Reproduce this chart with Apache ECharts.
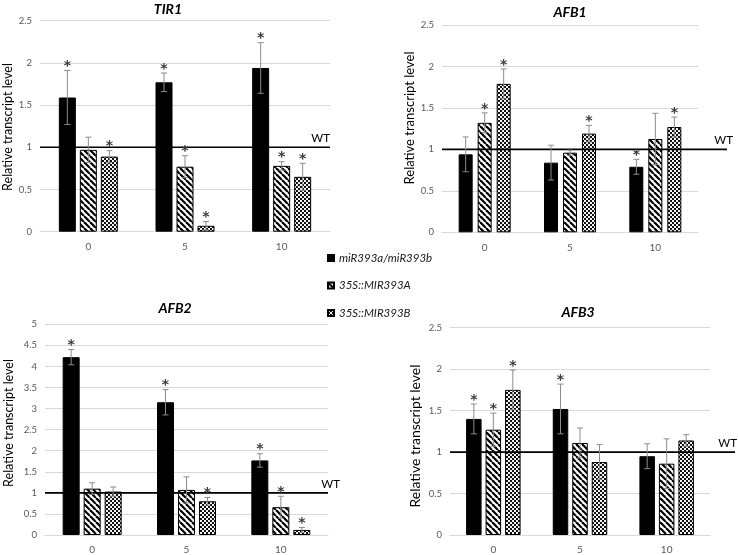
<!DOCTYPE html>
<html>
<head>
<meta charset="utf-8">
<script src="https://cdn.jsdelivr.net/npm/echarts@6/dist/echarts.min.js"></script>
<style>html,body{margin:0;padding:0;background:#fff}#c{width:738px;height:555px}</style>
</head>
<body>
<div id="c"></div>
<script>
// ---- data ----
const categories = ['0', '5', '10'];
const seriesNames = ['miR393a/miR393b', '35S::MIR393A', '35S::MIR393B'];
const panelTitles = ['TIR1', 'AFB1', 'AFB2', 'AFB3'];
const yLabel = 'Relative transcript level';
const wtLabel = 'WT';
const wtLevel = 1;

const tir1Mean = [[1.59, 1.77, 1.94], [0.97, 0.77, 0.78], [0.89, 0.07, 0.65]];
const tir1Err  = [[0.32, 0.11, 0.30], [0.15, 0.13, 0.05], [0.07, 0.05, 0.16]];
const tir1Sig  = [[1, 1, 1], [0, 1, 1], [1, 1, 1]];

const afb1Mean = [[0.94, 0.84, 0.79], [1.32, 0.96, 1.125], [1.79, 1.19, 1.27]];
const afb1Err  = [[0.21, 0.21, 0.09], [0.12, 0.03, 0.31], [0.18, 0.10, 0.12]];
const afb1Sig  = [[0, 0, 1], [1, 0, 0], [1, 1, 1]];

const afb2Mean = [[4.22, 3.15, 1.77], [1.10, 1.07, 0.66], [1.03, 0.80, 0.12]];
const afb2Err  = [[0.18, 0.30, 0.16], [0.14, 0.31, 0.26], [0.11, 0.09, 0.06]];
const afb2Sig  = [[1, 1, 1], [0, 0, 1], [0, 1, 1]];

const afb3Mean = [[1.40, 1.52, 0.95], [1.27, 1.11, 0.86], [1.75, 0.88, 1.14]];
const afb3Err  = [[0.18, 0.30, 0.15], [0.20, 0.18, 0.30], [0.24, 0.21, 0.07]];
const afb3Sig  = [[1, 1, 0], [1, 0, 0], [1, 0, 0]];

const yMax = [2.5, 2.5, 5, 2.5];
const yInterval = 0.5;

// ---- layout / style ----
const FONT = 'Lato, "Liberation Sans", sans-serif';
const grids = [
  {left: 40, top: 20.7, width: 290, height: 211},
  {left: 442, top: 25, width: 256, height: 207.3},
  {left: 45, top: 324.3, width: 283, height: 214},
  {left: 450, top: 327.7, width: 260, height: 210}
];
const barW = [17, 14, 17, 15.5];
const barGapPx = [4, 5, 4, 4];
const wtExt = [0, 29, 0, 25];         // line extension beyond grid right
const wtTextX = [330, 733, 340, 737]; // right edge of WT label
const titlePos = [[168, 9], [570, 12], [175, 308], [578, 312]];
const yNamePos = [[8, 127], [410, 118], [9, 423], [415, 436]];
const yNameSize = [12.5, 13, 12.5, 14];

function hatchPattern() {
  const c = document.createElement('canvas');
  c.width = 6; c.height = 6;
  const g = c.getContext('2d');
  g.fillStyle = '#fff'; g.fillRect(0, 0, 6, 6);
  g.strokeStyle = '#000'; g.lineWidth = 2.2;
  for (const o of [-6, 0, 6]) { g.beginPath(); g.moveTo(o, 0); g.lineTo(o + 6, 6); g.stroke(); }
  return c;
}
function checkerPattern() {
  const c = document.createElement('canvas');
  c.width = 4; c.height = 4;
  const g = c.getContext('2d');
  g.fillStyle = '#111'; g.fillRect(0, 0, 4, 4);
  g.fillStyle = '#f4f4f4'; g.fillRect(0, 0, 2, 2); g.fillRect(2, 2, 2, 2);
  return c;
}
const fills = ['#000', {image: hatchPattern(), repeat: 'repeat'}, {image: checkerPattern(), repeat: 'repeat'}];

const panels = [
  [tir1Mean, tir1Err, tir1Sig],
  [afb1Mean, afb1Err, afb1Sig],
  [afb2Mean, afb2Err, afb2Sig],
  [afb3Mean, afb3Err, afb3Sig]
];

const xAxes = [], yAxes = [], series = [], graphics = [];
panels.forEach(function (p, i) {
  const mean = p[0], err = p[1], sig = p[2];
  xAxes.push({
    gridIndex: i, type: 'category', data: categories,
    axisTick: {show: false},
    axisLine: {lineStyle: {color: '#d9d9d9', width: 1}},
    axisLabel: {color: '#595959', fontSize: 10, fontFamily: FONT, margin: 10}
  });
  yAxes.push({
    gridIndex: i, type: 'value', min: 0, max: yMax[i], interval: yInterval,
    axisLine: {show: false}, axisTick: {show: false},
    splitLine: {lineStyle: {color: '#d9d9d9', width: 1}},
    axisLabel: {color: '#595959', fontSize: 9.5, fontFamily: FONT, margin: 8}
  });
  const gapPct = (barGapPx[i] / barW[i] * 100).toFixed(1) + '%';
  for (let s = 0; s < 3; s++) {
    series.push({
      name: seriesNames[s], type: 'bar', xAxisIndex: i, yAxisIndex: i,
      data: mean[s], barWidth: barW[i], barGap: gapPct,
      itemStyle: {color: fills[s], borderColor: '#000', borderWidth: 1},
      emphasis: {disabled: true}, z: 2
    });
  }
  // error bars + significance asterisks
  const ebData = [];
  for (let s = 0; s < 3; s++) for (let c = 0; c < 3; c++) ebData.push([c, s, mean[s][c], err[s][c], sig[s][c]]);
  const bw = barW[i], gp = barGapPx[i];
  series.push({
    name: 'err' + i, type: 'custom', xAxisIndex: i, yAxisIndex: i, z: 5,
    data: ebData, encode: {x: 0, y: 2},
    renderItem: function (params, api) {
      const c = api.value(0), s = api.value(1), m = api.value(2), e = api.value(3), sg = api.value(4);
      const x = api.coord([c, 0])[0] + (s - 1) * (bw + gp);
      const yT = api.coord([c, m + e])[1];
      const yB = api.coord([c, Math.max(m - e, 0)])[1];
      const st = {stroke: '#8c8c8c', lineWidth: 1};
      const ch = [
        {type: 'line', shape: {x1: x, y1: yT, x2: x, y2: yB}, style: st},
        {type: 'line', shape: {x1: x - 3, y1: yT, x2: x + 3, y2: yT}, style: st},
        {type: 'line', shape: {x1: x - 3, y1: yB, x2: x + 3, y2: yB}, style: st}
      ];
      if (sg) ch.push({type: 'text', x: x, y: yT - 4,
        style: {text: '*', fill: '#3a3a3a', font: 'bold 14px "DejaVu Sans", sans-serif', align: 'center', verticalAlign: 'middle'}});
      return {type: 'group', children: ch};
    }
  });
  // WT reference line
  const ext = wtExt[i], tx = wtTextX[i];
  series.push({
    name: 'wt' + i, type: 'custom', xAxisIndex: i, yAxisIndex: i, z: 4,
    data: [[0, wtLevel]], encode: {x: 0, y: 1},
    renderItem: function (params, api) {
      const cs = params.coordSys;
      const y = api.coord([0, api.value(1)])[1];
      return {type: 'group', children: [
        {type: 'line', shape: {x1: cs.x, y1: y, x2: cs.x + cs.width + ext, y2: y}, style: {stroke: '#000', lineWidth: 1.6}},
        {type: 'text', x: tx, y: y - 3, style: {text: wtLabel, fill: '#000', font: '11.5px ' + FONT, align: 'right', verticalAlign: 'bottom'}}
      ]};
    }
  });
  graphics.push({type: 'text', x: titlePos[i][0], y: titlePos[i][1],
    style: {text: panelTitles[i], fill: '#000', font: 'italic bold 14px ' + FONT, align: 'center', verticalAlign: 'middle'}});
  graphics.push({type: 'text', x: yNamePos[i][0], y: yNamePos[i][1], rotation: Math.PI / 2,
    style: {text: yLabel, fill: '#000', font: yNameSize[i] + 'px ' + FONT, align: 'center', verticalAlign: 'middle'}});
});

const chart = echarts.init(document.getElementById('c'), null, {renderer: 'canvas'});
chart.setOption({
  animation: false,
  backgroundColor: '#fff',
  grid: grids,
  xAxis: xAxes,
  yAxis: yAxes,
  series: series,
  graphic: graphics,
  legend: {
    data: seriesNames, orient: 'vertical', left: 322, top: 246,
    itemWidth: 6, itemHeight: 6, itemGap: 13.5, icon: 'rect',
    selectedMode: false,
    textStyle: {fontStyle: 'italic', fontSize: 11.5, color: '#1a1a1a', fontFamily: FONT, lineHeight: 14}
  }
});
</script>
</body>
</html>
